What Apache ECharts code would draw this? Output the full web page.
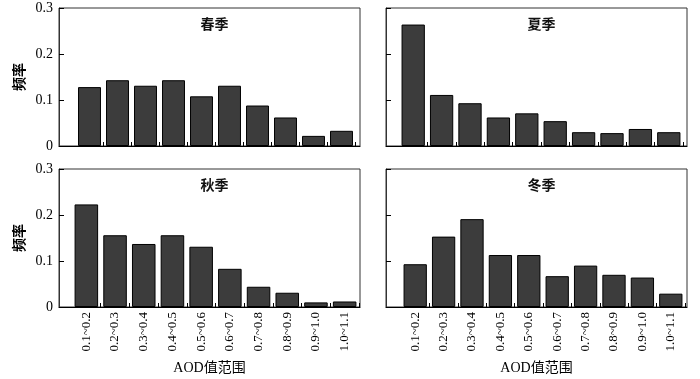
<!DOCTYPE html>
<html>
<head>
<meta charset="utf-8">
<script src="https://cdn.jsdelivr.net/npm/echarts@6/dist/echarts.min.js"></script>
<style>html,body{margin:0;padding:0;background:#fff;}#c{width:700px;height:379px;}</style>
</head>
<body>
<div id="c"></div>
<script>
var categories = ['0.1~0.2','0.2~0.3','0.3~0.4','0.4~0.5','0.5~0.6','0.6~0.7','0.7~0.8','0.8~0.9','0.9~1.0','1.0~1.1'];
var yTicks = [0, 0.1, 0.2, 0.3];
var seasonNames = ['春季', '夏季', '秋季', '冬季'];
var spring = [0.128, 0.143, 0.131, 0.143, 0.108, 0.131, 0.088, 0.062, 0.022, 0.033];
var summer = [0.264, 0.111, 0.093, 0.062, 0.071, 0.054, 0.030, 0.028, 0.037, 0.030];
var autumn = [0.223, 0.156, 0.137, 0.156, 0.131, 0.083, 0.044, 0.031, 0.010, 0.012];
var winter = [0.093, 0.153, 0.191, 0.113, 0.113, 0.067, 0.090, 0.070, 0.064, 0.029];
var seriesData = [spring, summer, autumn, winter];

var FONT = '"Liberation Serif", "Noto Sans CJK SC", serif';
// frame boxes: [x0, x1, y0, y1]
var frames = [[59, 360, 8, 146], [386, 687, 8, 146], [59, 360, 169, 307], [386, 687, 169, 307]];
// bar area horizontal extents
var barAreas = [[75.5, 355.5], [399, 683], [72, 359], [401, 685]];

var grids = [], xAxes = [], yAxes = [], series = [], titles = [];
for (var p = 0; p < 4; p++) {
  var f = frames[p];
  var isLeft = (p % 2 === 0), isBottom = (p >= 2);
  grids.push({left: f[0], width: f[1] - f[0], top: f[2], height: f[3] - f[2],
    show: true, borderColor: '#333', borderWidth: 1, containLabel: false});
  xAxes.push({type: 'value', gridIndex: p, min: 0, max: 1,
    axisLine: {show: true, onZero: false, lineStyle: {color: '#000', width: 1.2}},
    axisTick: {show: false}, axisLabel: {show: false}, splitLine: {show: false},
    name: isBottom ? 'AOD值范围' : '', nameLocation: 'middle', nameGap: 54,
    nameTextStyle: {fontFamily: FONT, fontSize: 14, color: '#000'}});
  yAxes.push({type: 'value', gridIndex: p, min: 0, max: 0.3, interval: 0.1,
    axisLine: {show: true, lineStyle: {color: '#333'}},
    axisTick: {show: true, inside: true, length: 5, lineStyle: {color: '#000'}},
    axisLabel: {show: isLeft, fontFamily: FONT, fontSize: 14, color: '#000', margin: 6,
      formatter: function (v) { return String(v); }},
    splitLine: {show: false},
    name: isLeft ? '频率' : '', nameLocation: 'middle', nameRotate: 90, nameGap: 32,
    nameTextStyle: {fontFamily: FONT, fontSize: 14, fontWeight: 'bold', color: '#000'}});
  titles.push({text: seasonNames[p], left: (f[0] + f[1]) / 2, top: f[2] + 5, textAlign: 'center',
    textStyle: {fontFamily: FONT, fontSize: 14, fontWeight: 'bold', color: '#111'}});
}
for (var p = 0; p < 4; p++) {
  var f = frames[p], b = barAreas[p];
  var isBottom = (p >= 2);
  grids.push({left: b[0], width: b[1] - b[0], top: f[2], height: f[3] - f[2], show: false});
  xAxes.push({type: 'category', gridIndex: 4 + p, data: categories, boundaryGap: true,
    axisLine: {show: false},
    axisTick: {show: true, inside: true, length: 4, lineStyle: {color: '#000'},
      interval: function (i) { return i > 0; }},
    axisLabel: {show: isBottom, rotate: 90, interval: 0, fontFamily: FONT, fontSize: 13, color: '#000', margin: 5},
    splitLine: {show: false}});
  yAxes.push({type: 'value', gridIndex: 4 + p, min: 0, max: 0.3, interval: 0.1, show: false});
  series.push({type: 'bar', xAxisIndex: 4 + p, yAxisIndex: 4 + p, data: seriesData[p],
    barCategoryGap: '18%', itemStyle: {color: '#3c3c3c', borderColor: '#000', borderWidth: 1},
    silent: true});
}

var chart = echarts.init(document.getElementById('c'), null, {renderer: 'canvas'});
chart.setOption({
  animation: false,
  backgroundColor: '#fff',
  title: titles,
  grid: grids,
  xAxis: xAxes,
  yAxis: yAxes,
  series: series
});
</script>
</body>
</html>
